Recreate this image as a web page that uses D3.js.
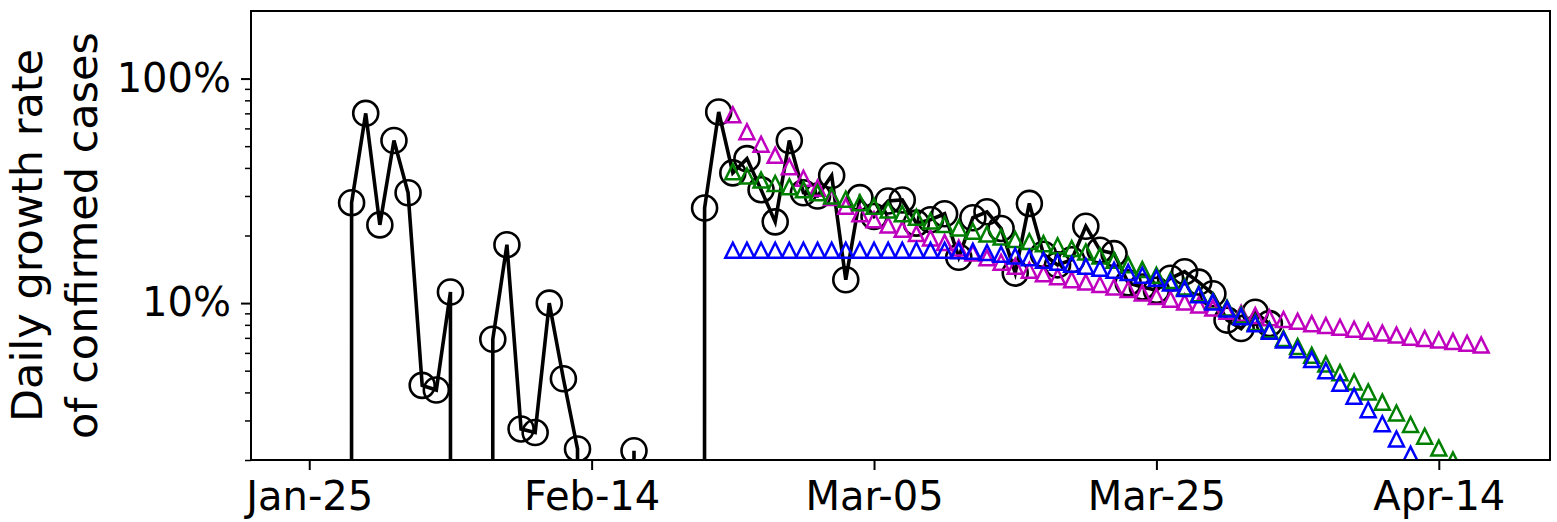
<!DOCTYPE html>
<html>
<head>
<meta charset="utf-8">
<script src="https://cdn.jsdelivr.net/npm/d3@7"></script>
<style>
  html, body { margin: 0; padding: 0; background: #fff; }
  svg { display: block; }
</style>
</head>
<body>
<svg id="chart" width="1557" height="522"></svg>
<script>
// Daily growth rate of confirmed cases, in percent (0 = no growth that day)
const observedStart = '2020-01-23';
const observedRate = [
    0, 0, 0, 0, 0, 28, 70, 22.3, 53,          // Jan 23 - Jan 31
    31, 4.3, 4.1, 11.2, 0, 0, 6.9, 18.2, 2.75, 2.65, 10, 4.6, 2.24, 0,
    0, 0, 2.2, 0, 0, 0, 0, 26.5, 71, 38, 44, 32, 23, 53, 31,   // Feb
    30, 37, 12.7, 29.5, 24.3, 28.5, 28.8, 22.7, 23.5, 25, 16, 24, 25.5,
    21.5, 13.6, 27.8, 16.5, 14.8, 15.6, 22, 17.2, 16.6, 12.3, 11.8, 11.4,
    12.9, 13.8, 12.4, 11, 8.4, 7.7,           // Mar
    9.1, 8.1                                  // Apr 1 - Apr 2
];

// Model curves, Feb 24 - Apr 17
const fitStart = '2020-02-24';
const fitMagenta = [
    69, 58, 51, 45.5, 40.5, 36,
    32.5, 29.5, 27, 25, 23.5, 22.3, 21.3, 20.4, 19.5, 18.6, 17.6, 16.7, 15.9, 15.2,
    14.6, 14.0, 13.5, 13.1, 12.7, 12.4, 12.1, 11.8, 11.5, 11.1, 10.7, 10.4, 10.1,
    9.8, 9.5, 9.2, 9.0,
    8.8, 8.6, 8.45, 8.3, 8.1, 7.95, 7.8, 7.65, 7.5, 7.35, 7.2, 7.05, 6.95, 6.85,
    6.75, 6.62, 6.5
];
const fitGreen = [
    38.5, 36.8, 35.3, 34.1, 33.0, 32.0,
    31.0, 30.0, 29.0, 28.0, 27.0, 26.0, 25.0, 24.1, 23.2, 22.4, 21.6, 20.9, 20.3,
    19.7, 19.2, 18.8, 18.4, 18.0, 17.5, 16.9, 16.2, 15.5, 14.8, 14.1, 13.3, 12.6,
    11.8, 11.0, 10.2, 9.5, 8.85,
    8.2, 7.6, 6.95, 6.4, 5.85, 5.35, 4.9, 4.45, 4.02, 3.62, 3.24, 2.88, 2.55, 2.26,
    2.0, 1.76, 1.55
];
const fitBlue = [
    17.2, 17.2, 17.2, 17.2, 17.2, 17.2,
    17.2, 17.2, 17.2, 17.2, 17.2, 17.2, 17.2, 17.2, 17.2, 17.2,
    17.1, 17.0, 16.8, 16.5, 16.2, 15.9, 15.5, 15.2, 14.9, 14.6, 14.3, 14.0, 13.7,
    13.3, 12.9, 12.3, 11.6, 10.9, 10.1, 9.4, 8.7,
    8.1, 7.5, 6.85, 6.2, 5.6, 5.0, 4.4, 3.85, 3.35, 2.9, 2.48, 2.12, 1.8, 1.52,
    1.28, 1.08, 0.9
];

const xTicks = ['2020-01-25', '2020-02-14', '2020-03-05', '2020-03-25', '2020-04-14'];
const yMajorTicks = [10, 100];
const yMinorTicks = [2, 3, 4, 5, 6, 7, 8, 9, 20, 30, 40, 50, 60, 70, 80, 90];

const parse = d3.utcParse('%Y-%m-%d');
const FLOOR = 1e-300;   // zero on a log axis: line drops straight off the bottom

const plot = { left: 251, right: 1550, top: 11, bottom: 460 };

const x = d3.scaleUtc()
    .domain([new Date(Date.UTC(2020, 0, 20, 21)), new Date(Date.UTC(2020, 3, 21, 21))])
    .range([plot.left, plot.right]);

const y = d3.scaleLog()
    .domain([2, 200])
    .range([plot.bottom, plot.top]);

function toPoints(start, values) {
    const d0 = parse(start);
    return values.map((v, i) => ({ date: d3.utcDay.offset(d0, i), value: v }));
}

const svg = d3.select('#chart');

svg.append('defs').append('clipPath')
    .attr('id', 'plot-clip')
    .append('rect')
    .attr('x', plot.left)
    .attr('y', plot.top)
    .attr('width', plot.right - plot.left)
    .attr('height', plot.bottom - plot.top);

const g = svg.append('g').attr('clip-path', 'url(#plot-clip)');

// Observed data: black line with open circles
const observed = toPoints(observedStart, observedRate);

const line = d3.line()
    .x(d => x(d.date))
    .y(d => y(Math.max(d.value, FLOOR)));

g.append('path')
    .datum(observed)
    .attr('d', line)
    .attr('fill', 'none')
    .attr('stroke', '#000')
    .attr('stroke-width', 3.6)
    .attr('stroke-linejoin', 'miter');

g.selectAll('circle.obs')
    .data(observed.filter(d => d.value > 0))
    .enter()
    .append('circle')
    .attr('class', 'obs')
    .attr('cx', d => x(d.date))
    .attr('cy', d => y(d.value))
    .attr('r', 12.5)
    .attr('fill', 'none')
    .attr('stroke', '#000')
    .attr('stroke-width', 2.6);

// Model curves: open triangles
const s = 15;
const triangle = `M0,${-s / 2}L${s / 2},${s / 2}L${-s / 2},${s / 2}Z`;

const fits = [
    { values: fitMagenta, color: '#bf00bf' },
    { values: fitGreen, color: '#008000' },
    { values: fitBlue, color: '#0000ff' }
];

fits.forEach(f => {
    g.append('g')
        .selectAll('path')
        .data(toPoints(fitStart, f.values))
        .enter()
        .append('path')
        .attr('d', triangle)
        .attr('transform', d => `translate(${x(d.date)},${y(d.value)})`)
        .attr('fill', 'none')
        .attr('stroke', f.color)
        .attr('stroke-width', 2.5);
});

// Axes
const xAxis = svg.append('g')
    .attr('transform', `translate(0,${plot.bottom})`)
    .call(d3.axisBottom(x)
        .tickValues(xTicks.map(parse))
        .tickFormat(d3.utcFormat('%b-%d'))
        .tickSize(10)
        .tickPadding(12));

const yAxis = svg.append('g')
    .attr('transform', `translate(${plot.left},0)`)
    .call(d3.axisLeft(y)
        .tickValues(yMajorTicks)
        .tickFormat(d => d + '%')
        .tickSize(10)
        .tickPadding(10));

const yMinor = svg.append('g')
    .attr('transform', `translate(${plot.left},0)`)
    .call(d3.axisLeft(y)
        .tickValues(yMinorTicks)
        .tickFormat('')
        .tickSize(6));

[xAxis, yAxis, yMinor].forEach(a => {
    a.select('.domain').remove();
    a.attr('font-family', '"DejaVu Sans", sans-serif').attr('font-size', 40);
    a.selectAll('text').attr('fill', '#000');
});
xAxis.selectAll('line').attr('stroke', '#000').attr('stroke-width', 2);
yAxis.selectAll('line').attr('stroke', '#000').attr('stroke-width', 2);
yMinor.selectAll('line').attr('stroke', '#000').attr('stroke-width', 1.5);

// Frame
svg.append('rect')
    .attr('x', plot.left)
    .attr('y', plot.top)
    .attr('width', plot.right - plot.left)
    .attr('height', plot.bottom - plot.top)
    .attr('fill', 'none')
    .attr('stroke', '#000')
    .attr('stroke-width', 2);

// Y label, two centred lines
const yMid = (plot.top + plot.bottom) / 2;
const ylab = svg.append('text')
    .attr('transform', `translate(0,${yMid}) rotate(-90)`)
    .attr('text-anchor', 'middle')
    .attr('font-family', '"DejaVu Sans", sans-serif')
    .attr('font-size', 43)
    .attr('fill', '#000');

ylab.append('tspan').attr('x', 0).attr('y', 42).text('Daily growth rate');
ylab.append('tspan').attr('x', 0).attr('y', 97).text('of confirmed cases');
</script>
</body>
</html>
